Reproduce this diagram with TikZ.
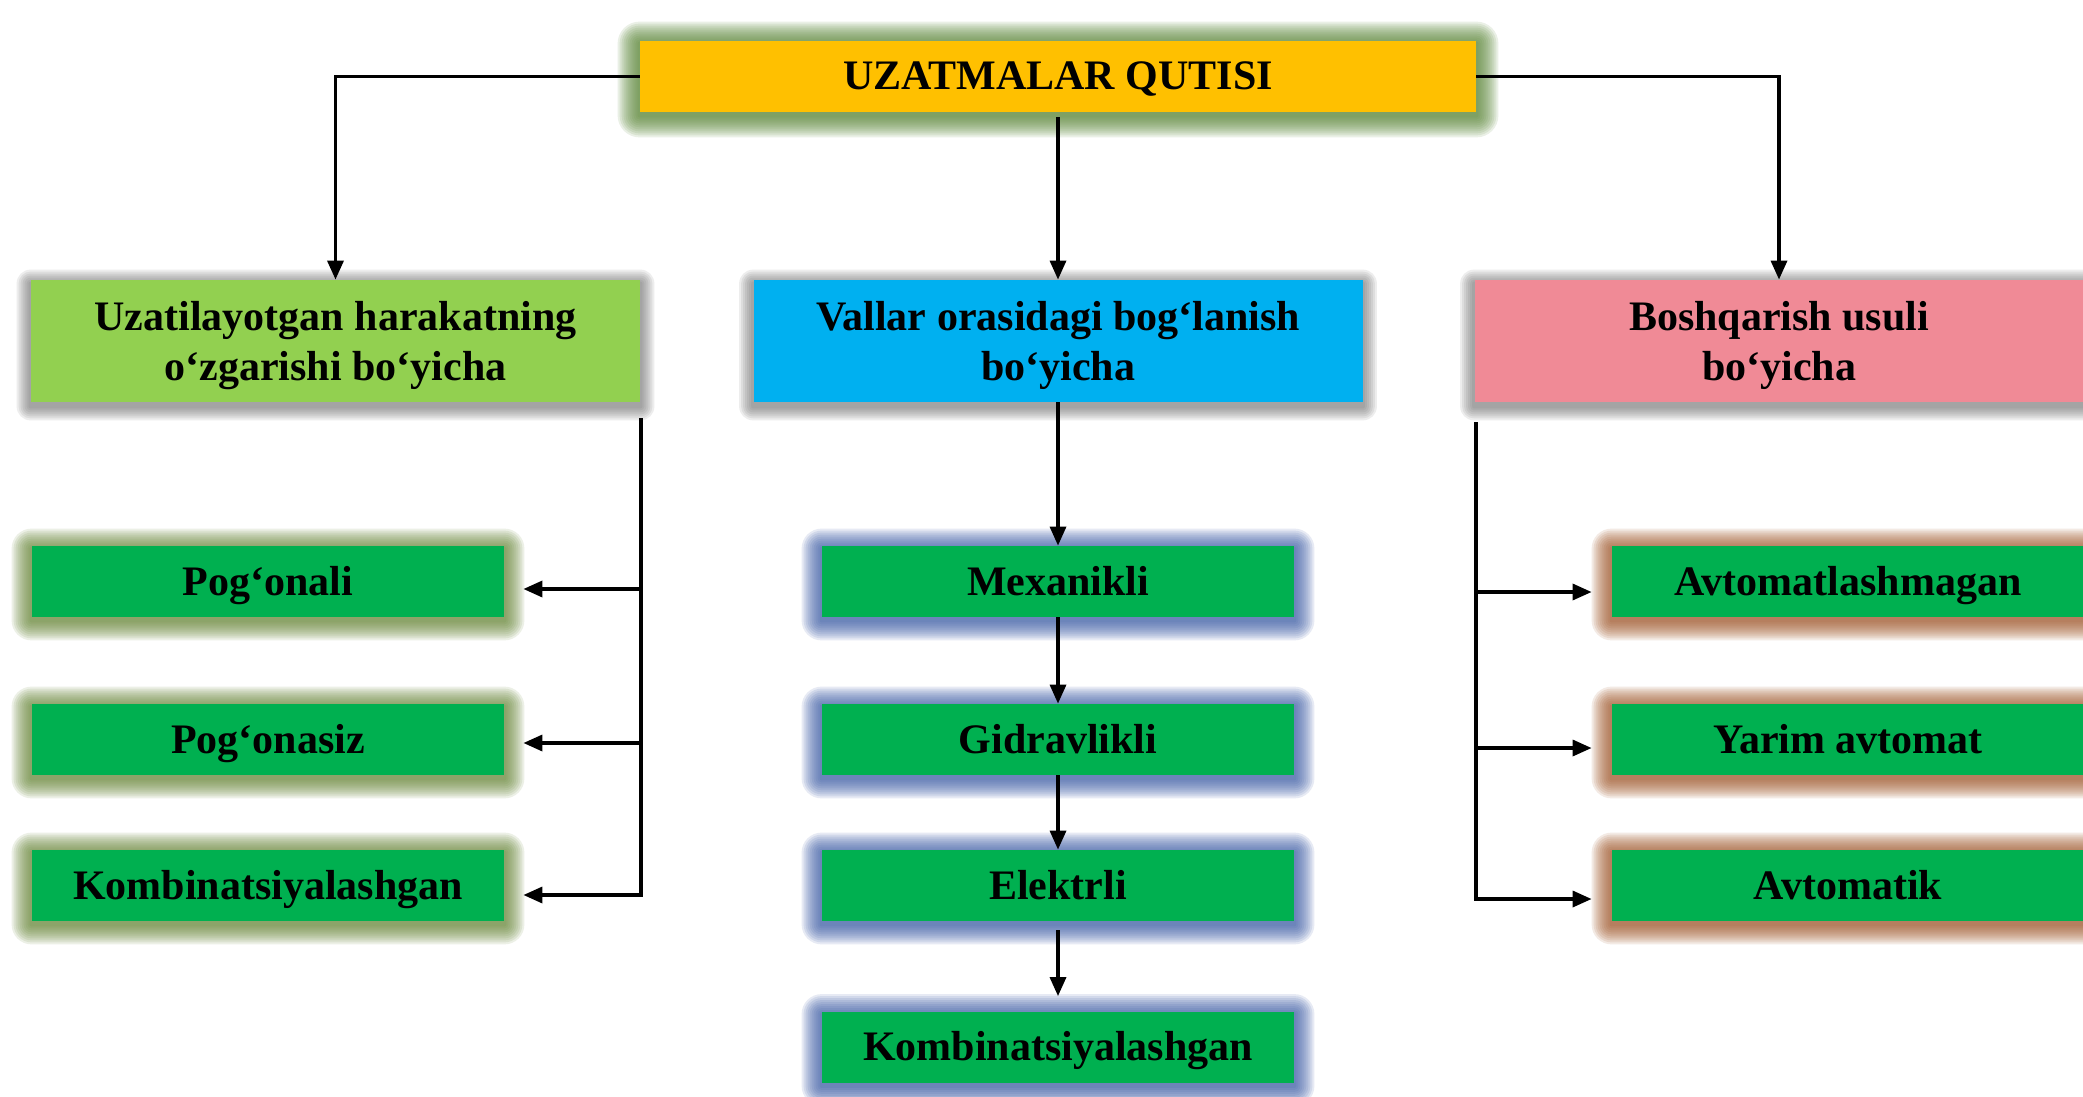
\documentclass[tikz,border=0pt]{standalone}
\usepackage{fontspec}
\setmainfont{Liberation Serif}
\usetikzlibrary{arrows.meta,calc}
\pgfdeclarelayer{glowlayer}
\pgfsetlayers{glowlayer,main}
\definecolor{gold}{HTML}{FFC000}
\definecolor{lightgreen}{HTML}{92D050}
\definecolor{skyblue}{HTML}{00B0F0}
\definecolor{rosepink}{HTML}{F08A96}
\definecolor{leafgreen}{HTML}{00B050}
\definecolor{topglow}{HTML}{5A8636}
\definecolor{leftglow}{HTML}{668534}
\definecolor{midglow}{HTML}{3A5AA5}
\definecolor{rightglow}{HTML}{9E5426}
\definecolor{shadowgray}{HTML}{606060}
\newcommand{\glowbox}[5]{% node, colour, layers, opacity, yshift
  \begin{pgfonlayer}{glowlayer}
  \foreach \k in {1,...,#3} {
    \fill[#2, opacity=#4, rounded corners=\k pt]
      ($(#1.south west)+(-\k pt,-\k pt-#5)$) rectangle ($(#1.north east)+(\k pt,\k pt-#5)$);
  }
  \end{pgfonlayer}}
\tikzset{
  base/.style={inner sep=0pt, font=\bfseries\fontsize{21pt}{25pt}\selectfont, align=center},
  topbox/.style={base, fill=gold, minimum width=418pt, minimum height=35.5pt, text height=13pt, text depth=0pt},
  headbox/.style={base, minimum width=304.5pt, minimum height=61pt, text depth=0pt},
  leaf/.style={base, fill=leafgreen, minimum width=236pt, minimum height=35.5pt, text height=13.5pt, text depth=0pt},
  link/.style={line width=1.7pt, draw=black},
  arr/.style={link, -{Triangle[length=9.5pt,width=8pt]}},
}
\begin{document}
\begin{tikzpicture}[x=0.5pt,y=-0.5pt]
\begin{pgfonlayer}{glowlayer}
\fill[white] (0,0) rectangle (2083,1097);
\end{pgfonlayer}
\useasboundingbox (0,0) rectangle (2083,1097);
\clip (0,0) rectangle (2083,1097);

% nodes
\node[topbox] (top) at (1058,76.5) {UZATMALAR QUTISI};
\node[headbox, fill=lightgreen] (ha) at (335.5,341) {Uzatilayotgan harakatning\\o‘zgarishi bo‘yicha};
\node[headbox, fill=skyblue] (hb) at (1058,341) {Vallar orasidagi bog‘lanish\\bo‘yicha};
\node[headbox, fill=rosepink] (hc) at (1779,341) {Boshqarish usuli\\bo‘yicha};

\node[leaf] (la1) at (268,581.5) {Pog‘onali};
\node[leaf] (la2) at (268,739.5) {Pog‘onasiz};
\node[leaf] (la3) at (268,885.5) {Kombinatsiyalashgan};

\node[leaf] (m1) at (1058,581.5) {Mexanikli};
\node[leaf] (m2) at (1058,739.5) {Gidravlikli};
\node[leaf] (m3) at (1058,885.5) {Elektrli};
\node[leaf] (m4) at (1058,1047) {Kombinatsiyalashgan};

\node[leaf] (r1) at (1848,581.5) {Avtomatlashmagan};
\node[leaf] (r2) at (1848,739.5) {Yarim avtomat};
\node[leaf] (r3) at (1848,885.5) {Avtomatik};

% glows and shadows
\glowbox{top}{topglow}{11}{0.12}{1.5pt}
\glowbox{ha}{shadowgray}{7}{0.11}{2pt}
\glowbox{hb}{shadowgray}{7}{0.11}{2pt}
\glowbox{hc}{shadowgray}{7}{0.11}{2pt}
\foreach \n in {la1,la2,la3} {\glowbox{\n}{leftglow}{10}{0.12}{1.5pt}}
\foreach \n in {m1,m2,m3,m4} {\glowbox{\n}{midglow}{10}{0.12}{1.5pt}}
\foreach \n in {r1,r2,r3} {\glowbox{\n}{rightglow}{10}{0.12}{1.5pt}}

% top connectors
\draw[arr] (top.west) -| (ha.north);
\draw[arr] (top.east) -| (hc.north);
\draw[arr, shorten <=2.5pt] (top.south) -- (hb.north);

% left bracket
\coordinate (lbtop) at (641,418);
\coordinate (lb1) at (641,589);
\coordinate (lb2) at (641,743);
\coordinate (lb3) at (641,895);
\draw[arr, shorten >=9.5pt] (lbtop) -- (lb3) -- (lb3 -| la3.east);
\draw[arr, shorten >=9.5pt] (lb1) -- (lb1 -| la1.east);
\draw[arr, shorten >=9.5pt] (lb2) -- (lb2 -| la2.east);

% right bracket
\coordinate (rbtop) at (1476,422);
\coordinate (rb1) at (1476,592);
\coordinate (rb2) at (1476,748);
\coordinate (rb3) at (1476,899);
\draw[arr, shorten >=10pt] (rbtop) -- (rb3) -- (rb3 -| r3.west);
\draw[arr, shorten >=10pt] (rb1) -- (rb1 -| r1.west);
\draw[arr, shorten >=10pt] (rb2) -- (rb2 -| r2.west);

% centre chain
\draw[arr] (hb.south) -- (m1.north);
\draw[arr] (m1.south) -- (m2.north);
\draw[arr] (m2.south) -- (m3.north);
\draw[arr, shorten <=4.5pt, shorten >=7.5pt] (m3.south) -- (m4.north);
\end{tikzpicture}
\end{document}
